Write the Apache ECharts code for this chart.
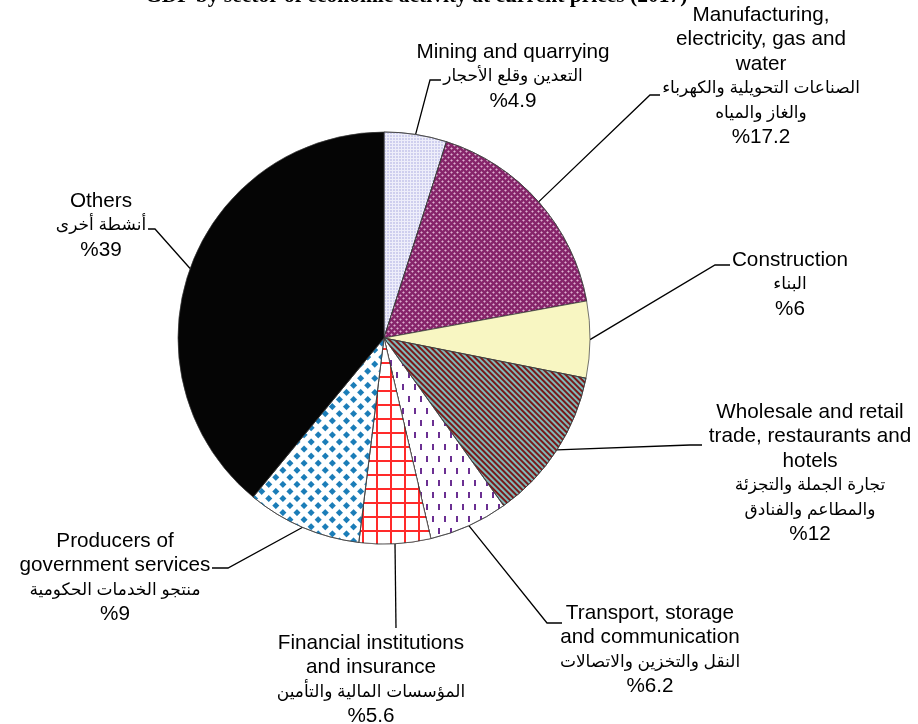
<!DOCTYPE html>
<html><head><meta charset="utf-8">
<script src="https://cdn.jsdelivr.net/npm/echarts@6/dist/echarts.min.js"></script>
<style>html,body{margin:0;padding:0;background:#fff}#c{width:918px;height:724px}</style>
</head><body><div id="c"></div>
<script>
// ---- data ----
var namesEn = ['Mining and quarrying', 'Manufacturing,\nelectricity, gas and\nwater', 'Construction', 'Wholesale and retail\ntrade, restaurants and\nhotels', 'Transport, storage\nand communication', 'Financial institutions\nand insurance', 'Producers of\ngovernment services', 'Others'];
var namesAr = ['التعدين وقلع الأحجار', 'الصناعات التحويلية والكهرباء\nوالغاز والمياه', 'البناء', 'تجارة الجملة والتجزئة\nوالمطاعم والفنادق', 'النقل والتخزين والاتصالات', 'المؤسسات المالية والتأمين', 'منتجو الخدمات الحكومية', 'أنشطة أخرى'];
var shares = [4.9, 17.2, 6, 12, 6.2, 5.6, 9, 39];
var titleText = 'GDP by sector of economic activity at current prices (2017)';

// ---- layout / style (not data) ----
var CX = 384, CY = 338, R = 206;
var labelPos = [[513, 40], [761, 3], [790, 248], [810, 400], [650, 601], [371, 631], [115, 529], [101, 189]];
var elbows = [[[430, 80], [441, 80]], [[650, 95], [660, 95]], [[715, 265], [730, 265]], [[690, 445], [702, 445]], [[547, 623], [562, 623]], [[396, 628], [396, 628]], [[228, 568], [212, 568]], [[155, 229], [148, 229]]];

var styles = [
  {color: '#eeeefa', decal: {symbol: 'circle', symbolSize: 0.7, dashArrayX: [2, 1], dashArrayY: [2, 1], color: '#9a9ad8'}},
  {color: '#86246a', decal: {symbol: 'diamond', symbolSize: 0.9, dashArrayX: [[3, 3], [0, 3, 3, 0]], dashArrayY: [3, 0], color: 'rgba(235,200,225,0.85)'}},
  {color: '#f8f6c2'},
  {color: '#7fb9b9', decal: {symbol: 'rect', symbolSize: 1, dashArrayX: [1, 0], dashArrayY: [2, 2], rotation: Math.PI / 4, color: '#7a1818'}},
  {color: '#ffffff', decal: {symbol: 'rect', symbolSize: 1, dashArrayX: [[2, 10], [0, 6, 2, 4]], dashArrayY: [6, 6], color: '#6b2f92'}},
  {color: '#ff2a2a', decal: {symbol: 'rect', symbolSize: 1, dashArrayX: [11.5, 1.5], dashArrayY: [11.5, 1.5], color: '#ffffff'}},
  {color: '#ffffff', decal: {symbol: 'rect', symbolSize: 1, dashArrayX: [5, 4.3], dashArrayY: [5, 4.3], rotation: Math.PI / 4, color: '#1b7db8'}},
  {color: '#050505'}
];

var total = shares.reduce(function (a, b) { return a + b; }, 0);
var cum = [];
(function () { var s = 0; for (var i = 0; i < shares.length; i++) { cum.push(s + shares[i] / 2); s += shares[i]; } })();

var data = shares.map(function (v, i) {
  var st = styles[i];
  var it = {color: st.color, borderColor: '#3a3a3a', borderWidth: 0.7};
  if (st.decal) it.decal = st.decal;
  return {value: v, name: namesEn[i].replace(/\n/g, ' '), itemStyle: it};
});

function fmt(p) {
  var i = p.dataIndex;
  var en = namesEn[i].split('\n').map(function (t) { return '{en|' + t + '}'; }).join('\n');
  var ar = namesAr[i].split('\n').map(function (t) { return '{ar|' + t + '}'; }).join('\n');
  return en + '\n' + ar + '\n{pc|%' + shares[i] + '}';
}

var chart = echarts.init(document.getElementById('c'), null, {renderer: 'canvas'});
chart.setOption({
  animation: false,
  backgroundColor: '#ffffff',
  title: {text: titleText, left: 140, top: -20, textStyle: {fontFamily: 'Liberation Serif', fontWeight: 'bold', fontSize: 21.5, color: '#000'}},
  series: [{
    type: 'pie',
    center: [CX, CY],
    radius: [0, R],
    startAngle: 90,
    clockwise: true,
    avoidLabelOverlap: false,
    data: data,
    label: {
      show: true,
      position: 'outside',
      formatter: fmt,
      color: '#000',
      align: 'center',
      rich: {
        en: {fontFamily: 'Liberation Sans', fontSize: 20.7, lineHeight: 24.5, color: '#000', align: 'center'},
        ar: {fontFamily: 'Liberation Sans, DejaVu Sans', fontSize: 17, lineHeight: 24.5, color: '#000', align: 'center'},
        pc: {fontFamily: 'Liberation Sans', fontSize: 20.7, lineHeight: 24, color: '#000', align: 'center'}
      }
    },
    labelLine: {show: true, lineStyle: {color: '#000', width: 1.3}},
    labelLayout: function (p) {
      var i = p.dataIndex;
      var ang = cum[i] / total * 2 * Math.PI;
      var p0 = [CX + R * Math.sin(ang), CY - R * Math.cos(ang)];
      return {
        x: labelPos[i][0], y: labelPos[i][1], align: 'center', verticalAlign: 'top',
        labelLinePoints: [p0, elbows[i][0], elbows[i][1]]
      };
    },
    emphasis: {disabled: true}
  }]
});
</script></body></html>
